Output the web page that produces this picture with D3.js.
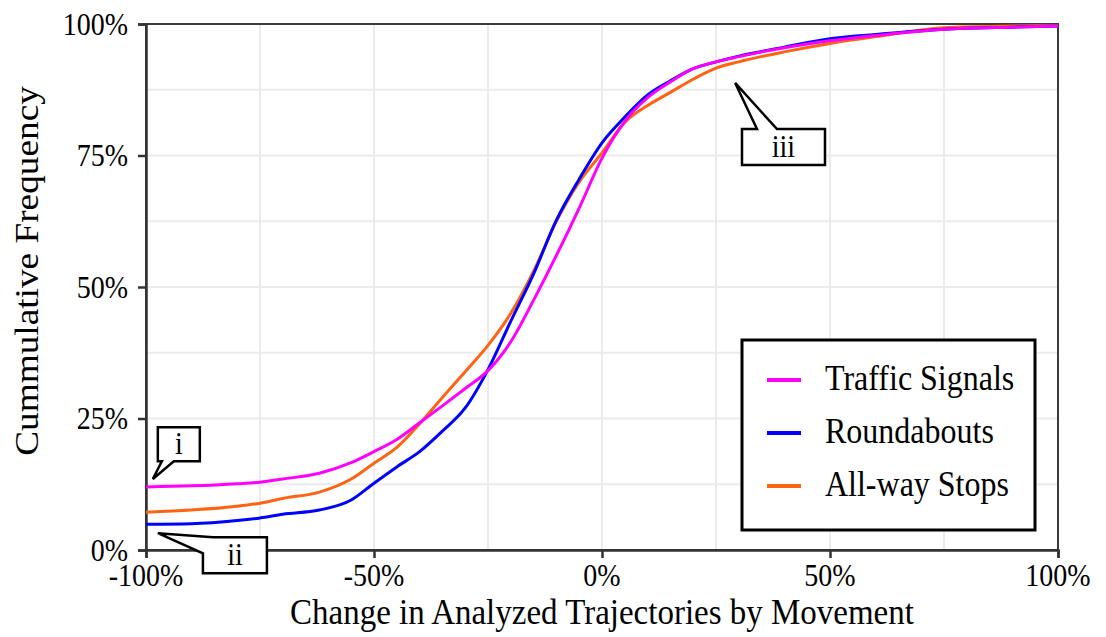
<!DOCTYPE html>
<html>
<head>
<meta charset="utf-8">
<script src="https://d3js.org/d3.v7.min.js"></script>
<style>
body { margin: 0; padding: 0; background: white; }
svg text { font-family: "Liberation Serif", "Times New Roman", serif; fill: black; }
</style>
</head>
<body>
<svg id="chart" width="1106" height="637"></svg>
<script>
// change in analyzed trajectories (%) at which the curves were read
var changePct = [-100, -90, -80, -75, -70, -62, -55, -50, -45, -40, -35, -30, -25, -20, -15, -10, -5, 0, 5, 10, 15, 20, 25, 30, 40, 50, 60, 75, 90, 100];

// cumulative frequency (%) for each group
var trafficSignals = [12.0, 12.2, 12.6, 12.9, 13.5, 14.6, 16.6, 18.7, 21.0, 24.2, 27.4, 30.7, 34.1, 39.6, 47.5, 56.0, 65.0, 74.5, 81.5, 86.0, 89.0, 91.5, 92.8, 93.8, 95.5, 96.8, 97.8, 99.0, 99.4, 99.6];
var roundabouts    = [4.9, 5.0, 5.6, 6.1, 6.8, 7.6, 9.5, 12.7, 15.8, 18.7, 22.6, 27.0, 34.3, 43.5, 52.5, 62.7, 70.5, 77.4, 82.3, 86.5, 89.2, 91.5, 92.8, 93.9, 95.6, 97.2, 98.0, 99.0, 99.4, 99.6];
var allWayStops    = [7.2, 7.6, 8.3, 8.9, 9.8, 11.0, 13.5, 16.5, 19.5, 24.0, 29.0, 33.9, 38.9, 45.0, 53.0, 62.5, 70.0, 75.5, 81.3, 84.5, 87.0, 89.5, 91.6, 92.8, 94.7, 96.3, 97.6, 99.3, 99.6, 99.7];

var seriesNames  = ["Traffic Signals", "Roundabouts", "All-way Stops"];
var seriesColors = ["#FF00FF", "#0000FF", "#FF6314"];

var xTicks = [-100, -50, 0, 50, 100];
var yTicks = [0, 25, 50, 75, 100];
var xGrid  = [-75, -50, -25, 0, 25, 50, 75];
var yGrid  = [12.5, 25, 37.5, 50, 62.5, 75, 87.5];

// callouts: label, tip (x%, y%), box centre (x%, y%), box size px
var calloutLabels = ["i", "ii", "iii"];
var calloutTips   = [[-98.5, 13.5], [-97.4, 3.2], [29.2, 88.8]];
var calloutBoxes  = [[-92.8, 20.1], [-80.5, -1.0], [39.8, 76.6]];
var calloutSizes  = [[42, 34], [64, 36], [83, 36]];

var SY = 1.1; // the picture's text is a bit taller than wide

var margin = {top: 24, right: 48, bottom: 87, left: 146},
    width = 1106 - margin.left - margin.right,
    height = 637 - margin.top - margin.bottom;

var svg = d3.select("#chart");
var g = svg.append("g").attr("transform", "translate(" + margin.left + "," + margin.top + ")");

var x = d3.scaleLinear().domain([-100, 100]).range([0, width]);
var y = d3.scaleLinear().domain([0, 100]).range([height, 0]);

// grid
g.selectAll(".vgrid").data(xGrid).enter().append("line")
  .attr("x1", function(d) { return x(d); }).attr("x2", function(d) { return x(d); })
  .attr("y1", 0).attr("y2", height)
  .attr("stroke", "#EBEBEB").attr("stroke-width", 2);
g.selectAll(".hgrid").data(yGrid).enter().append("line")
  .attr("y1", function(d) { return y(d); }).attr("y2", function(d) { return y(d); })
  .attr("x1", 0).attr("x2", width)
  .attr("stroke", "#EBEBEB").attr("stroke-width", 2);

// panel border
g.append("rect").attr("x", 0).attr("y", 0).attr("width", width).attr("height", height)
  .attr("fill", "none").attr("stroke", "#3a3a3a").attr("stroke-width", 2);

// axes
var xAxis = g.append("g").attr("transform", "translate(0," + height + ")")
  .call(d3.axisBottom(x).tickValues(xTicks).tickSize(8).tickFormat(""));
var yAxis = g.append("g")
  .call(d3.axisLeft(y).tickValues(yTicks).tickSize(8).tickFormat(""));
[xAxis, yAxis].forEach(function(a) {
  a.select(".domain").attr("stroke", "#333").attr("stroke-width", 2.5);
  a.selectAll(".tick line").attr("stroke", "#333").attr("stroke-width", 2.5);
});

g.selectAll(".xlab").data(xTicks).enter().append("text")
  .attr("transform", function(d) { return "translate(" + x(d) + "," + (height + 36) + ") scale(1," + SY + ")"; })
  .attr("text-anchor", "middle").attr("font-size", 28)
  .text(function(d) { return d + "%"; });
g.selectAll(".ylab").data(yTicks).enter().append("text")
  .attr("transform", function(d) { return "translate(-18," + y(d) + ") scale(1," + SY + ")"; })
  .attr("text-anchor", "end").attr("dy", "0.35em").attr("font-size", 28)
  .text(function(d) { return d + "%"; });

// axis titles
svg.append("text")
  .attr("transform", "translate(" + (margin.left + width / 2) + ",624) scale(1," + SY + ")")
  .attr("text-anchor", "middle").attr("font-size", 33)
  .text("Change in Analyzed Trajectories by Movement");
svg.append("text")
  .attr("transform", "translate(38,271) scale(1,1.13) rotate(-90)")
  .attr("text-anchor", "middle").attr("font-size", 33)
  .text("Cummulative Frequency");

// curves
var allSeries = [trafficSignals, roundabouts, allWayStops];
var line = d3.line()
  .x(function(d, i) { return x(changePct[i]); })
  .y(function(d) { return y(d); })
  .curve(d3.curveMonotoneX);
[2, 1, 0].forEach(function(k) {
  g.append("path").datum(allSeries[k])
    .attr("d", line)
    .attr("fill", "none").attr("stroke", seriesColors[k]).attr("stroke-width", 3);
});

// callouts
calloutLabels.forEach(function(lab, i) {
  var tx = x(calloutTips[i][0]), ty = y(calloutTips[i][1]);
  var cx = x(calloutBoxes[i][0]), cy = y(calloutBoxes[i][1]);
  var w = calloutSizes[i][0], h = calloutSizes[i][1];
  var l = cx - w / 2, r = cx + w / 2, t = cy - h / 2, b = cy + h / 2;
  var pts;
  if (i == 0) {
    pts = [[l, t], [r, t], [r, b], [l + 16, b], [tx, ty], [l + 4, b], [l, b]];
  } else if (i == 1) {
    pts = [[l + 10, t], [r, t], [r, b], [l, b], [l, t + 16], [tx, ty]];
  } else {
    pts = [[l, t], [l + 15, t], [tx, ty], [l + 35, t], [r, t], [r, b], [l, b]];
  }
  g.append("path")
    .attr("d", "M" + pts.map(function(p) { return p.join(","); }).join("L") + "Z")
    .attr("fill", "white").attr("stroke", "black").attr("stroke-width", 2.5)
    .attr("stroke-linejoin", "miter");
  g.append("text")
    .attr("transform", "translate(" + cx + "," + (cy + 10) + ") scale(1," + SY + ")")
    .attr("text-anchor", "middle").attr("font-size", 28)
    .text(lab);
});

// legend
var lg = svg.append("g").attr("transform", "translate(742,340)");
lg.append("rect").attr("width", 293).attr("height", 190)
  .attr("fill", "white").attr("stroke", "black").attr("stroke-width", 3);
seriesNames.forEach(function(name, i) {
  var yy = 40 + i * 53;
  lg.append("line").attr("x1", 25).attr("x2", 59).attr("y1", yy).attr("y2", yy)
    .attr("stroke", seriesColors[i]).attr("stroke-width", 4);
  lg.append("text")
    .attr("transform", "translate(83," + (yy + 10) + ") scale(1," + SY + ")")
    .attr("font-size", 32)
    .text(name);
});
</script>
</body>
</html>
